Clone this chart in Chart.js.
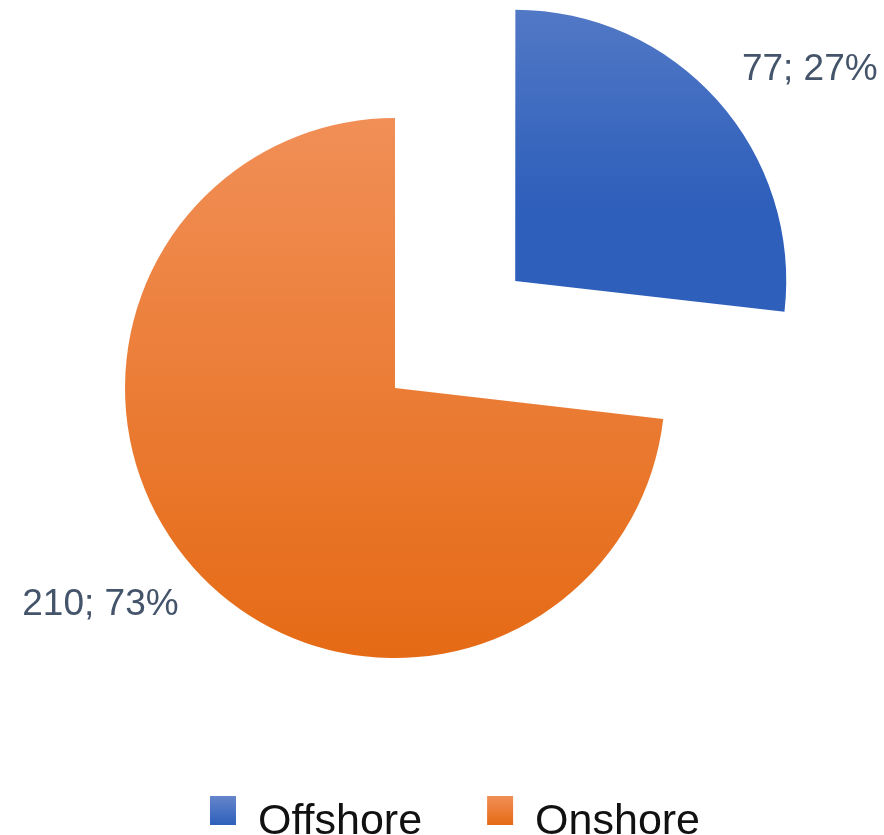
<!DOCTYPE html>
<html>
<head>
<meta charset="utf-8">
<style>
  html, body { margin: 0; padding: 0; background: #fff; }
  #wrap { width: 884px; height: 835px; }
</style>
</head>
<body>
<div id="wrap"><canvas id="pieShore" width="884" height="835"></canvas></div>

<script src="https://cdn.jsdelivr.net/npm/chart.js"></script>
<script>
const categories = ['Offshore', 'Onshore'];
const counts = [77, 210];

// gradient stops per slice, top -> bottom
const topColors = ['#6586CB', '#F18F57'];
const bottomColors = ['#2E5FBB', '#E56A15'];
const explodePx = 161;

const total = counts.reduce((a, b) => a + b, 0);
const sliceLabels = counts.map(v => v + '; ' + Math.round(v / total * 100) + '%');

function sliceOffset(el) {
    return (el.options.offset || 0) / 4;
}

const gradientPlugin = {
    id: 'sliceGradient',
    beforeDatasetsDraw(chart) {
        const ctx = chart.ctx;
        const meta = chart.getDatasetMeta(0);
        meta.data.forEach((el, i) => {
            const mid = (el.startAngle + el.endAngle) / 2;
            const off = sliceOffset(el);
            const cy = el.y + Math.sin(mid) * off;
            // vertical extent of the wedge
            let top = cy, bottom = cy;
            const steps = 60;
            for (let k = 0; k <= steps; k++) {
                const a = el.startAngle + (el.endAngle - el.startAngle) * k / steps;
                const y = cy + Math.sin(a) * el.outerRadius;
                top = Math.min(top, y);
                bottom = Math.max(bottom, y);
            }
            const g = ctx.createLinearGradient(0, top, 0, bottom);
            g.addColorStop(0, topColors[i]);
            g.addColorStop(1, bottomColors[i]);
            el.options.backgroundColor = g;
        });
    }
};

const labelPlugin = {
    id: 'sliceLabels',
    afterDatasetsDraw(chart) {
        const ctx = chart.ctx;
        const meta = chart.getDatasetMeta(0);
        ctx.save();
        ctx.font = '37px "Liberation Sans", Arial, sans-serif';
        ctx.fillStyle = '#44546A';
        ctx.textAlign = 'center';
        ctx.textBaseline = 'alphabetic';
        meta.data.forEach((el, i) => {
            const mid = (el.startAngle + el.endAngle) / 2;
            const off = sliceOffset(el);
            const cx = el.x + Math.cos(mid) * off;
            const cy = el.y + Math.sin(mid) * off;
            const a = mid + 0.1;
            const r = el.outerRadius + 94;
            ctx.fillText(sliceLabels[i], cx + Math.cos(a) * r, cy + Math.sin(a) * r + 13);
        });
        ctx.restore();
    }
};

const legendPlugin = {
    id: 'bottomLegend',
    afterDraw(chart) {
        const ctx = chart.ctx;
        ctx.save();
        ctx.font = '43px "Liberation Sans", Arial, sans-serif';
        ctx.textBaseline = 'alphabetic';
        ctx.textAlign = 'left';
        const box = 26, boxH = 29, gap = 22, itemGap = 65;
        const widths = categories.map(c => ctx.measureText(c).width);
        const full = widths.reduce((s, w) => s + box + gap + w, 0) + itemGap * (categories.length - 1);
        let x = 455 - full / 2;
        const boxTop = 796;
        categories.forEach((c, i) => {
            const g = ctx.createLinearGradient(0, boxTop, 0, boxTop + boxH);
            g.addColorStop(0, topColors[i]);
            g.addColorStop(1, bottomColors[i]);
            ctx.fillStyle = g;
            ctx.fillRect(x, boxTop, box, boxH);
            ctx.fillStyle = '#111111';
            ctx.fillText(c, x + box + gap, 834);
            x += box + gap + widths[i] + itemGap;
        });
        ctx.restore();
    }
};

const ctx = document.getElementById('pieShore').getContext('2d');
const pieChart = new Chart(ctx, {
    type: 'pie',
    data: {
        labels: categories,
        datasets: [{
            data: counts,
            backgroundColor: bottomColors,
            borderWidth: 0,
            offset: [explodePx * 4, 0],
            radius: 270,
        }],
    },
    options: {
        responsive: false,
        animation: false,
        layout: {
            padding: { left: 0, right: 94, top: 0, bottom: 59 },
        },
        plugins: {
            legend: { display: false },
            tooltip: { enabled: false },
        },
    },
    plugins: [gradientPlugin, labelPlugin, legendPlugin],
});
</script>
</body>
</html>
